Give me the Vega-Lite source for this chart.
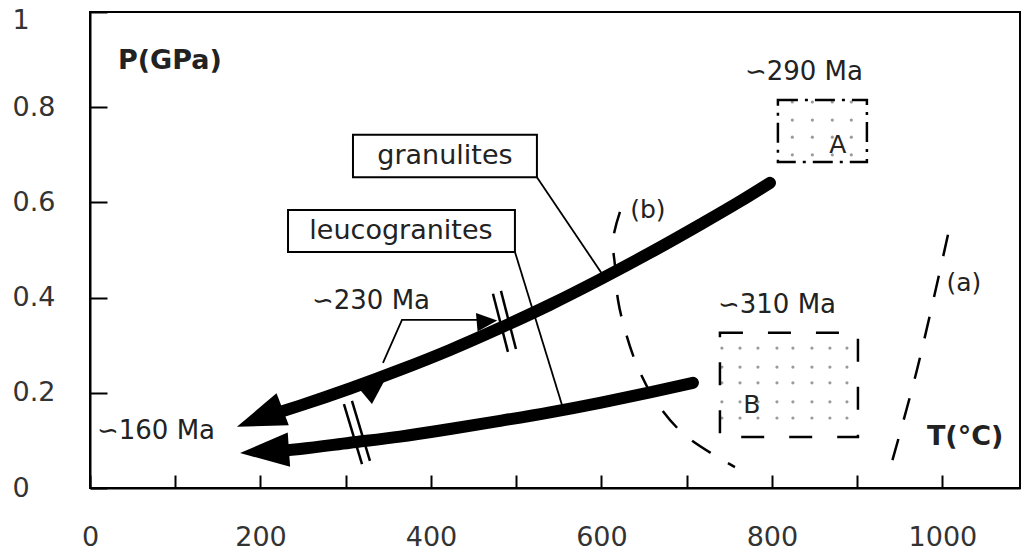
{
  "$schema": "https://vega.github.io/schema/vega-lite/v6.json",
  "width": 930,
  "height": 476,
  "autosize": "none",
  "padding": {"left": 90, "top": 12, "right": 3, "bottom": 63},
  "background": "white",
  "config": {"view": {"stroke": "black", "strokeWidth": 2}, "font": "DejaVu Sans"},
  "datasets": {
    "dots": [
      {"x": 823.9, "y": 0.811}, {"x": 847.4, "y": 0.811}, {"x": 870.8, "y": 0.811}, {"x": 893.1, "y": 0.811},
      {"x": 823.9, "y": 0.773}, {"x": 847.4, "y": 0.773}, {"x": 870.8, "y": 0.773}, {"x": 893.1, "y": 0.773},
      {"x": 823.9, "y": 0.737}, {"x": 847.4, "y": 0.737}, {"x": 870.8, "y": 0.737}, {"x": 893.1, "y": 0.737},
      {"x": 823.9, "y": 0.700}, {"x": 847.4, "y": 0.700}, {"x": 870.8, "y": 0.700}, {"x": 893.1, "y": 0.700},
      {"x": 741.3, "y": 0.294}, {"x": 762.5, "y": 0.294}, {"x": 783.6, "y": 0.294}, {"x": 805.9, "y": 0.294}, {"x": 824.6, "y": 0.294}, {"x": 846.9, "y": 0.294}, {"x": 868.0, "y": 0.294}, {"x": 888.0, "y": 0.294},
      {"x": 741.3, "y": 0.254}, {"x": 762.5, "y": 0.254}, {"x": 783.6, "y": 0.254}, {"x": 805.9, "y": 0.254}, {"x": 824.6, "y": 0.254}, {"x": 846.9, "y": 0.254}, {"x": 868.0, "y": 0.254}, {"x": 888.0, "y": 0.254},
      {"x": 741.3, "y": 0.221}, {"x": 762.5, "y": 0.221}, {"x": 783.6, "y": 0.221}, {"x": 805.9, "y": 0.221}, {"x": 824.6, "y": 0.221}, {"x": 846.9, "y": 0.221}, {"x": 868.0, "y": 0.221}, {"x": 888.0, "y": 0.221},
      {"x": 741.3, "y": 0.181}, {"x": 762.5, "y": 0.181}, {"x": 783.6, "y": 0.181}, {"x": 805.9, "y": 0.181}, {"x": 824.6, "y": 0.181}, {"x": 846.9, "y": 0.181}, {"x": 868.0, "y": 0.181}, {"x": 888.0, "y": 0.181},
      {"x": 741.3, "y": 0.147}, {"x": 762.5, "y": 0.147}, {"x": 783.6, "y": 0.147}, {"x": 805.9, "y": 0.147}, {"x": 824.6, "y": 0.147}, {"x": 846.9, "y": 0.147}, {"x": 868.0, "y": 0.147}, {"x": 888.0, "y": 0.147}
    ],
    "dashed": [
      {"id": "b", "i": 0, "x": 621.7, "y": 0.580},
      {"id": "b", "i": 1, "x": 613.5, "y": 0.521},
      {"id": "b", "i": 2, "x": 615.8, "y": 0.468},
      {"id": "b", "i": 3, "x": 619.4, "y": 0.395},
      {"id": "b", "i": 4, "x": 627.6, "y": 0.332},
      {"id": "b", "i": 5, "x": 641.6, "y": 0.258},
      {"id": "b", "i": 6, "x": 662.8, "y": 0.185},
      {"id": "b", "i": 7, "x": 697.9, "y": 0.111},
      {"id": "b", "i": 8, "x": 756.6, "y": 0.044},
      {"id": "a", "i": 0, "x": 1006.5, "y": 0.532},
      {"id": "a", "i": 1, "x": 970.1, "y": 0.248},
      {"id": "a", "i": 2, "x": 940.8, "y": 0.055}
    ],
    "leaders": [
      {"id": "g", "i": 0, "x": 524.3, "y": 0.653},
      {"id": "g", "i": 1, "x": 601.8, "y": 0.447},
      {"id": "l", "i": 0, "x": 498.5, "y": 0.496},
      {"id": "l", "i": 1, "x": 554.8, "y": 0.168},
      {"id": "m", "i": 0, "x": 455.1, "y": 0.353},
      {"id": "m", "i": 1, "x": 366.0, "y": 0.353},
      {"id": "m", "i": 2, "x": 343.7, "y": 0.263}
    ],
    "hatches": [
      {"id": "h1", "x": 472.7, "y": 0.408}, {"id": "h1", "x": 490.3, "y": 0.286},
      {"id": "h2", "x": 482.1, "y": 0.414}, {"id": "h2", "x": 499.7, "y": 0.292},
      {"id": "h3", "x": 297.9, "y": 0.176}, {"id": "h3", "x": 319.1, "y": 0.050},
      {"id": "h4", "x": 307.3, "y": 0.183}, {"id": "h4", "x": 328.4, "y": 0.057}
    ],
    "curves": [
      {"id": "granulites", "x": 211.1, "y": 0.153},
      {"id": "granulites", "x": 246.3, "y": 0.173},
      {"id": "granulites", "x": 305.0, "y": 0.209},
      {"id": "granulites", "x": 363.6, "y": 0.248},
      {"id": "granulites", "x": 422.3, "y": 0.290},
      {"id": "granulites", "x": 480.9, "y": 0.336},
      {"id": "granulites", "x": 539.6, "y": 0.385},
      {"id": "granulites", "x": 598.2, "y": 0.438},
      {"id": "granulites", "x": 656.9, "y": 0.494},
      {"id": "granulites", "x": 715.5, "y": 0.553},
      {"id": "granulites", "x": 762.5, "y": 0.602},
      {"id": "granulites", "x": 797.7, "y": 0.641},
      {"id": "leucogranites", "x": 217.0, "y": 0.077},
      {"id": "leucogranites", "x": 246.3, "y": 0.082},
      {"id": "leucogranites", "x": 305.0, "y": 0.095},
      {"id": "leucogranites", "x": 363.6, "y": 0.108},
      {"id": "leucogranites", "x": 422.3, "y": 0.124},
      {"id": "leucogranites", "x": 480.9, "y": 0.141},
      {"id": "leucogranites", "x": 539.6, "y": 0.159},
      {"id": "leucogranites", "x": 598.2, "y": 0.179},
      {"id": "leucogranites", "x": 656.9, "y": 0.201},
      {"id": "leucogranites", "x": 707.3, "y": 0.221}
    ]
  },
  "encoding": {
    "x": {
      "field": "x", "type": "quantitative",
      "scale": {"domain": [0, 1091], "nice": false, "zero": false},
      "axis": {
        "title": null, "grid": false,
        "values": [0, 100, 200, 300, 400, 500, 600, 700, 800, 900, 1000],
        "format": "d",
        "labelExpr": "datum.value % 200 === 0 ? datum.label : ''",
        "tickSize": -13, "tickWidth": 2, "tickColor": "black",
        "domainColor": "black", "domainWidth": 2,
        "labelPadding": 49, "labelFontSize": 27, "labelColor": "#333",
        "labelFont": "DejaVu Sans", "labelOverlap": false, "labelFlush": false
      }
    },
    "y": {
      "field": "y", "type": "quantitative",
      "scale": {"domain": [0, 1], "nice": false, "zero": false},
      "axis": {
        "title": null, "grid": false,
        "values": [0, 0.2, 0.4, 0.6, 0.8, 1],
        "format": ".1~f",
        "tickSize": -17, "tickWidth": 2, "tickColor": "black",
        "domainColor": "black", "domainWidth": 2,
        "labelAlign": "left", "labelPadding": 95, "labelFontSize": 27,
        "labelColor": "#333", "labelFont": "DejaVu Sans",
        "labelOverlap": false, "labelFlush": false,
        "labelOffset": {"condition": {"test": "datum.value === 1", "value": 8}, "value": 0}
      }
    }
  },
  "layer": [
    {
      "data": {"name": "dots"},
      "mark": {"type": "point", "filled": true, "size": 10, "color": "#9a9a9a", "opacity": 1}
    },
    {
      "data": {"values": [{"x": 807.0, "x2": 911.4, "y": 0.685, "y2": 0.815}]},
      "mark": {"type": "rect", "fill": "white", "fillOpacity": 0, "stroke": "black", "strokeWidth": 2.5, "strokeDash": [20, 7, 3, 7]},
      "encoding": {"x2": {"field": "x2"}, "y2": {"field": "y2"}}
    },
    {
      "data": {"values": [{"x": 739.0, "x2": 900.9, "y": 0.107, "y2": 0.326}]},
      "mark": {"type": "rect", "fill": "white", "fillOpacity": 0, "stroke": "black", "strokeWidth": 2.5, "strokeDash": [23, 25]},
      "encoding": {"x2": {"field": "x2"}, "y2": {"field": "y2"}}
    },
    {
      "data": {"name": "dashed"},
      "mark": {"type": "line", "color": "black", "strokeWidth": 2.5, "strokeDash": [22, 20], "interpolate": "catmull-rom"},
      "encoding": {"detail": {"field": "id"}, "order": {"field": "i", "type": "quantitative"}}
    },
    {
      "data": {"name": "leaders"},
      "mark": {"type": "line", "color": "black", "strokeWidth": 1.8},
      "encoding": {"detail": {"field": "id"}, "order": {"field": "i", "type": "quantitative"}}
    },
    {
      "data": {"name": "hatches"},
      "mark": {"type": "line", "color": "black", "strokeWidth": 2.5},
      "encoding": {"detail": {"field": "id"}}
    },
    {
      "data": {"name": "curves"},
      "mark": {"type": "line", "color": "black", "strokeWidth": 12, "strokeCap": "round", "interpolate": "monotone"},
      "encoding": {"detail": {"field": "id"}}
    },
    {
      "data": {"values": [{"x": 199.2, "y": 0.147}]},
      "mark": {"type": "point", "shape": "M1,0L-1,-0.7L-1,0.7Z", "filled": true, "color": "black", "opacity": 1, "size": 2401, "angle": 159, "strokeWidth": 0}
    },
    {
      "data": {"values": [{"x": 204.7, "y": 0.077}]},
      "mark": {"type": "point", "shape": "M1,0L-1,-0.7L-1,0.7Z", "filled": true, "color": "black", "opacity": 1, "size": 2401, "angle": 176, "strokeWidth": 0}
    },
    {
      "data": {"values": [{"x": 465.7, "y": 0.350}]},
      "mark": {"type": "point", "shape": "M1,0L-1,-0.9L-1,0.9Z", "filled": true, "color": "black", "opacity": 1, "size": 420, "angle": -5, "strokeWidth": 0}
    },
    {
      "data": {"values": [{"x": 334.3, "y": 0.208}]},
      "mark": {"type": "point", "shape": "M1,0L-1,-0.8L-1,0.8Z", "filled": true, "color": "black", "opacity": 1, "size": 576, "angle": -40, "strokeWidth": 0}
    },
    {
      "data": {"values": [
        {"x": 308.5, "x2": 524.3, "y": 0.653, "y2": 0.742},
        {"x": 232.3, "x2": 498.5, "y": 0.496, "y2": 0.584}
      ]},
      "mark": {"type": "rect", "fill": "white", "stroke": "black", "strokeWidth": 2},
      "encoding": {"x2": {"field": "x2"}, "y2": {"field": "y2"}}
    },
    {
      "data": {"values": [
        {"label": "granulites", "x": 416.4, "y": 0.697},
        {"label": "leucogranites", "x": 364.8, "y": 0.540}
      ]},
      "mark": {"type": "text", "fontSize": 27, "color": "#222", "align": "center", "baseline": "middle", "font": "DejaVu Sans"},
      "encoding": {"text": {"field": "label"}}
    },
    {
      "data": {"values": [
        {"label": "A", "x": 877.4, "y": 0.721},
        {"label": "B", "x": 776.5, "y": 0.174},
        {"label": "(a)", "x": 1025.2, "y": 0.431},
        {"label": "(b)", "x": 654.5, "y": 0.584}
      ]},
      "mark": {"type": "text", "fontSize": 25, "color": "#222", "align": "center", "baseline": "middle", "font": "DejaVu Sans"},
      "encoding": {"text": {"field": "label"}}
    },
    {
      "data": {"values": [
        {"label": "∽290 Ma", "x": 768.3, "y": 0.874},
        {"label": "∽310 Ma", "x": 736.7, "y": 0.384},
        {"label": "∽230 Ma", "x": 260.4, "y": 0.393},
        {"label": "∽160 Ma", "x": 8.2, "y": 0.120}
      ]},
      "mark": {"type": "text", "fontSize": 26, "color": "#222", "align": "left", "baseline": "middle", "font": "DejaVu Sans"},
      "encoding": {"text": {"field": "label"}}
    },
    {
      "data": {"values": [
        {"label": "P(GPa)", "x": 32.8, "y": 0.897},
        {"label": "T(°C)", "x": 981.8, "y": 0.107}
      ]},
      "mark": {"type": "text", "fontSize": 27, "fontWeight": "bold", "color": "#222", "align": "left", "baseline": "middle", "font": "DejaVu Sans"},
      "encoding": {"text": {"field": "label"}}
    }
  ]
}
